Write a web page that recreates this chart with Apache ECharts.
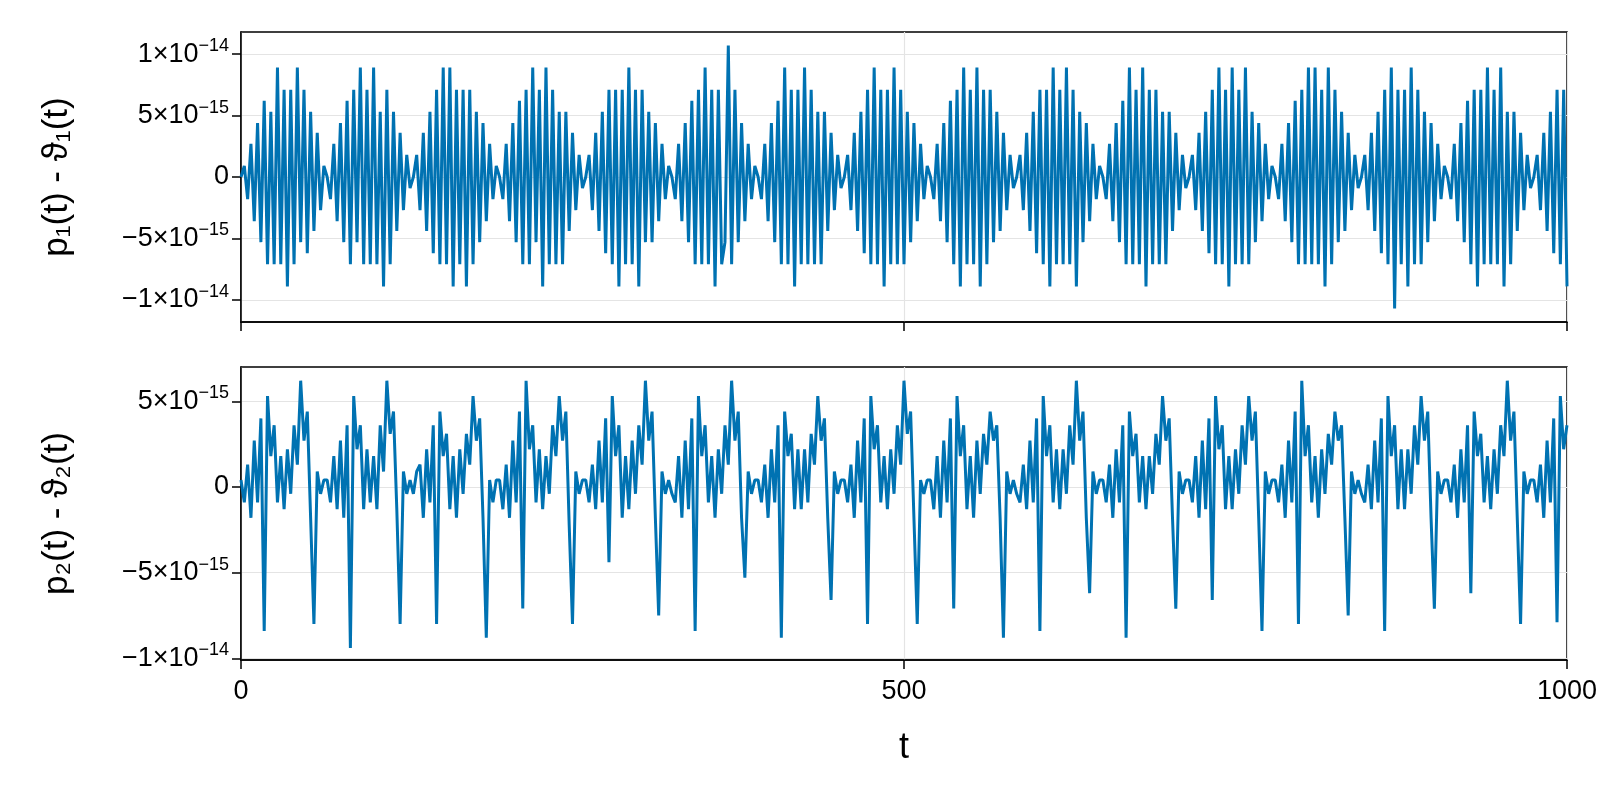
<!DOCTYPE html>
<html>
<head>
<meta charset="utf-8">
<script src="https://cdn.jsdelivr.net/npm/echarts@6/dist/echarts.min.js"></script>
<style>
  html, body { margin: 0; padding: 0; background: #fff; }
  #chart { width: 1600px; height: 800px; }
</style>
</head>
<body>
<div id="chart"></div>
<script>
/**
 * p(t) - theta(t) residuals, two panels
 * values are in units of 1e-15, sampled every 2.5 in t
 */

var color_linea = '#0072b2';
var t_paso = 2.5;

// top panel: p1(t) - theta1(t), one row per 65 t (26 samples)
var dif_p1 = [
    0, 0.9, -1.8, 2.7, -3.6, 4.4, -5.3, 6.2, -7.1, 5.3, -7.1, 8.9, -7.1, 7.1, -8.9, 7.1, -7.1, 8.9, -5.3, 7.1, -6.2, 5.3, -4.4, 3.6, -2.7, 0.9,
    0, -1.8, 2.7, -3.6, 4.4, -5.3, 6.2, -7.1, 7.1, -5.3, 8.9, -7.1, 7.1, -7.1, 8.9, -7.1, 5.3, -8.9, 7.1, -7.1, 5.3, -4.4, 3.6, -2.7, 1.8, -0.9,
    0, 1.8, -2.7, 3.6, -4.4, 5.3, -6.2, 7.1, -7.1, 8.9, -7.1, 8.9, -8.9, 7.1, -7.1, 7.1, -8.9, 7.1, -7.1, 5.3, -5.3, 4.4, -3.6, 2.7, -1.8, 0.9,
    0, -1.8, 2.7, -3.6, 4.4, -5.3, 6.2, -7.1, 7.1, -7.1, 8.9, -5.3, 7.1, -8.9, 8.9, -7.1, 7.1, -7.1, 5.3, -7.1, 5.3, -4.4, 3.6, -2.7, 1.8, -0.9,
    0, 1.8, -2.7, 3.6, -4.4, 5.3, -6.2, 7.1, -7.1, 7.1, -8.9, 7.1, -7.1, 8.9, -7.1, 7.1, -8.9, 7.1, -5.3, 5.3, -5.3, 4.4, -3.6, 2.7, -1.8, 0.9,
    0, -1.8, 2.7, -3.6, 4.4, -5.3, 6.2, -7.1, 7.1, -7.1, 8.9, -7.1, 7.1, -8.9, 7.1, -7.1, -5.3, 10.7, -7.1, 7.1, -5.3, 4.4, -3.6, 2.7, -1.8, 0.9,
    0, -1.8, 2.7, -3.6, 4.4, -5.3, 6.2, -7.1, 8.9, -7.1, 7.1, -8.9, 7.1, -7.1, 8.9, -7.1, 7.1, -7.1, 5.3, -7.1, 5.3, -4.4, 3.6, -2.7, 1.8, -0.9,
    0, 1.8, -2.7, 3.6, -4.4, 5.3, -6.2, 7.1, -7.1, 8.9, -7.1, 7.1, -8.9, 7.1, -7.1, 8.9, -7.1, 7.1, -7.1, 5.3, -5.3, 4.4, -3.6, 2.7, -1.8, 0.9,
    0, -1.8, 2.7, -3.6, 4.4, -5.3, 6.2, -7.1, 7.1, -8.9, 8.9, -7.1, 7.1, -7.1, 8.9, -8.9, 7.1, -7.1, 7.1, -5.3, 5.3, -4.4, 3.6, -2.7, 1.8, -0.9,
    0, 1.8, -2.7, 3.6, -4.4, 5.3, -6.2, 7.1, -7.1, 7.1, -8.9, 8.9, -7.1, 7.1, -7.1, 8.9, -7.1, 7.1, -8.9, 5.3, -5.3, 4.4, -3.6, 2.7, -1.8, 0.9,
    0, -1.8, 2.7, -3.6, 4.4, -5.3, 6.2, -7.1, 8.9, -7.1, 7.1, -7.1, 8.9, -8.9, 7.1, -7.1, 7.1, -7.1, 5.3, -7.1, 5.3, -4.4, 3.6, -2.7, 1.8, -0.9,
    0, 1.8, -2.7, 3.6, -4.4, 5.3, -6.2, 7.1, -7.1, 8.9, -7.1, 7.1, -8.9, 8.9, -7.1, 7.1, -7.1, 8.9, -7.1, 5.3, -5.3, 4.4, -3.6, 2.7, -1.8, 0.9,
    0, -1.8, 2.7, -3.6, 4.4, -5.3, 6.2, -7.1, 7.1, -7.1, 8.9, -7.1, 8.9, -7.1, 7.1, -8.9, 8.9, -7.1, 7.1, -5.3, 5.3, -4.4, 3.6, -2.7, 1.8, -0.9,
    0, 1.8, -2.7, 3.6, -4.4, 5.3, -6.2, 7.1, -7.1, 8.9, -10.7, 7.1, -7.1, 7.1, -8.9, 8.9, -7.1, 7.1, -7.1, 5.3, -5.3, 4.4, -3.6, 2.7, -1.8, 0.9,
    0, -1.8, 2.7, -3.6, 4.4, -5.3, 6.2, -7.1, 7.1, -8.9, 7.1, -7.1, 8.9, -7.1, 7.1, -7.1, 8.9, -8.9, 5.3, -7.1, 5.3, -4.4, 3.6, -2.7, 1.8, -0.9,
    0, 1.8, -2.7, 3.6, -4.4, 5.3, -6.2, 7.1, -7.1, 7.1, -8.9
];

// bottom panel: p2(t) - theta2(t), one row per 65 t (26 samples)
var dif_p2 = [
    0.4, -0.9, 1.3, -1.8, 2.7, -0.9, 4.0, -8.4, 5.3, 1.8, 3.6, -0.9, 1.8, -1.3, 2.2, -0.4, 3.6, 1.3, 6.2, 2.7, 4.4, -1.8, -8.0, 0.9, -0.4, 0.4,
    0.4, -0.9, 1.8, -1.3, 2.7, -1.8, 3.6, -9.4, 5.3, 2.2, 3.6, -1.3, 2.2, -0.9, 1.8, -1.3, 3.6, 0.9, 6.2, 3.1, 4.4, -1.3, -8.0, 0.9, -0.4, 0.4,
    -0.4, 0.9, 1.3, -1.8, 2.2, -0.9, 3.6, -8.0, 4.4, 1.8, 3.1, -1.3, 1.8, -1.8, 2.2, -0.4, 3.1, 1.3, 5.3, 2.7, 4.0, -1.8, -8.8, 0.4, -0.9, 0.4,
    0.4, -1.3, 1.3, -1.8, 2.7, -0.9, 4.4, -7.1, 6.2, 2.2, 3.6, -0.9, 2.2, -1.3, 1.8, -0.4, 3.6, 1.8, 5.3, 2.7, 4.4, -2.2, -8.0, 0.9, -0.4, 0.4,
    0.4, -0.9, 1.3, -1.3, 2.7, -0.9, 4.0, -4.4, 5.3, 1.8, 3.6, -1.8, 1.8, -1.3, 2.7, -0.4, 3.6, 1.3, 6.2, 2.7, 4.4, -1.8, -7.5, 0.9, -0.4, 0.4,
    -0.4, -0.9, 1.8, -1.8, 2.7, -1.3, 4.0, -8.4, 5.3, 1.8, 3.6, -0.9, 1.8, -1.8, 2.2, -0.4, 3.6, 1.3, 6.2, 2.7, 4.4, -1.8, -5.3, 0.9, -0.4, 0.4,
    0.4, -0.9, 1.3, -1.8, 2.2, -0.9, 3.6, -8.8, 4.4, 1.8, 3.1, -1.3, 2.2, -1.3, 2.2, -0.9, 3.1, 1.3, 5.3, 2.7, 4.0, -1.8, -6.6, 0.9, -0.4, 0.4,
    0.4, -0.9, 1.3, -1.8, 2.7, -0.9, 4.0, -8.0, 5.3, 2.2, 3.6, -0.9, 1.8, -1.3, 2.2, -0.4, 3.6, 1.3, 6.2, 3.1, 4.4, -1.8, -8.0, 0.4, -0.4, 0.4,
    0.4, -1.3, 1.8, -1.8, 2.7, -0.9, 4.0, -7.1, 5.3, 1.8, 3.6, -1.3, 1.8, -1.8, 2.7, -0.4, 3.1, 1.3, 4.4, 2.7, 3.6, -1.8, -8.8, 0.9, -0.4, 0.4,
    -0.4, -0.9, 1.3, -1.3, 2.7, -0.9, 4.0, -8.4, 5.3, 1.8, 3.6, -0.9, 2.2, -1.3, 2.2, -0.4, 3.6, 1.3, 6.2, 2.7, 4.4, -1.8, -6.2, 0.9, -0.4, 0.4,
    0.4, -0.9, 1.3, -1.8, 2.2, -0.9, 3.6, -8.8, 4.4, 1.8, 3.1, -0.9, 1.8, -1.3, 1.8, -0.4, 3.1, 1.3, 5.3, 2.7, 4.0, -1.8, -7.1, 0.9, -0.4, 0.4,
    0.4, -0.9, 1.8, -1.8, 2.7, -1.3, 4.0, -6.6, 5.3, 2.2, 3.6, -1.3, 1.8, -1.3, 2.2, -0.4, 3.6, 1.3, 5.3, 2.7, 4.4, -1.8, -8.4, 0.9, -0.4, 0.4,
    0.4, -0.9, 1.3, -1.8, 2.7, -0.9, 4.4, -8.0, 6.2, 1.8, 3.6, -0.9, 1.8, -1.8, 2.2, -0.4, 3.1, 1.3, 4.4, 2.7, 3.6, -1.8, -7.5, 0.9, -0.4, 0.4,
    -0.4, -0.9, 1.3, -1.3, 2.7, -0.9, 4.0, -8.4, 5.3, 1.8, 3.6, -1.3, 2.2, -1.3, 2.2, -0.4, 3.6, 1.3, 5.3, 2.7, 4.4, -1.8, -7.1, 0.9, -0.4, 0.4,
    0.4, -0.9, 1.3, -1.8, 2.2, -0.9, 3.6, -6.2, 4.4, 1.8, 3.1, -0.9, 1.8, -1.3, 2.2, -0.4, 3.6, 1.8, 6.2, 2.7, 4.4, -1.8, -8.0, 0.9, -0.4, 0.4,
    0.4, -0.9, 1.3, -1.8, 2.7, -0.9, 4.0, -7.9, 5.3, 2.2, 3.6
];

var ticks_x = [0, 500, 1000];
var ticks_y1 = [-10, -5, 0, 5, 10];
var ticks_y2 = [-10, -5, 0, 5];

function pares(valores) {
    return valores.map(function(v, i) { return [i * t_paso, v]; });
}

// 5 -> 5×10^-15 , 10 -> 1×10^-14
function etiqueta_y(v) {
    if (v === 0) return '{b|0}';
    var signo = v < 0 ? '\u2212' : '';
    var a = Math.abs(v);
    if (a === 10) return '{b|' + signo + '1\u00d710}{s|\u221214}';
    return '{b|' + signo + a + '\u00d710}{s|\u221215}';
}

var rico = {
    b: { fontSize: 27, color: '#000', fontFamily: 'Liberation Sans' },
    s: { fontSize: 18, color: '#000', fontFamily: 'Liberation Sans', padding: [0, 0, 16, 0] }
};

function eje_y(idx, min, max, ticks, nombre) {
    return {
        type: 'value', gridIndex: idx, min: min, max: max,
        name: nombre, nameLocation: 'middle', nameGap: 166, nameRotate: 90,
        nameTextStyle: { fontSize: 35, color: '#000', fontFamily: 'Liberation Sans' },
        axisLine: { show: true, lineStyle: { color: '#000', width: 1.5 } },
        axisTick: { show: true, inside: false, length: 9, customValues: ticks, lineStyle: { color: '#000', width: 1.5 } },
        axisLabel: { customValues: ticks, formatter: etiqueta_y, rich: rico, margin: 12, color: '#000' },
        splitLine: { show: true, lineStyle: { color: '#e4e4e4', width: 1.2 } }
    };
}

function eje_x(idx, etiquetas) {
    return {
        type: 'value', gridIndex: idx, min: 0, max: 1000,
        name: etiquetas ? 't' : '', nameLocation: 'middle', nameGap: 70,
        nameTextStyle: { fontSize: 36, color: '#000', fontFamily: 'Liberation Sans' },
        axisLine: { show: true, onZero: false, lineStyle: { color: '#000', width: 1.5 } },
        axisTick: { show: true, inside: false, length: 9, customValues: ticks_x, lineStyle: { color: '#000', width: 1.5 } },
        axisLabel: { show: etiquetas, customValues: ticks_x, fontSize: 27, color: '#000', margin: 18,
                     fontFamily: 'Liberation Sans', formatter: function(v) { return String(v); } },
        splitLine: { show: true, lineStyle: { color: '#e4e4e4', width: 1.2 } }
    };
}

var grafico = echarts.init(document.getElementById('chart'), null, { renderer: 'canvas' });

var option = {
    animation: false,
    backgroundColor: '#fff',
    grid: [
        { left: 241, right: 33, top: 32, height: 290, show: true, borderColor: '#000', borderWidth: 1.5 },
        { left: 241, right: 33, top: 367, height: 293, show: true, borderColor: '#000', borderWidth: 1.5 }
    ],
    xAxis: [ eje_x(0, false), eje_x(1, true) ],
    yAxis: [
        eje_y(0, -11.8, 11.8, ticks_y1, 'p\u2081(t) - \u03d1\u2081(t)'),
        eje_y(1, -10.1, 7.0, ticks_y2, 'p\u2082(t) - \u03d1\u2082(t)')
    ],
    series: [
        {
            type: 'line', xAxisIndex: 0, yAxisIndex: 0, data: pares(dif_p1),
            showSymbol: false, lineStyle: { color: color_linea, width: 3 }
        },
        {
            type: 'line', xAxisIndex: 1, yAxisIndex: 1, data: pares(dif_p2),
            showSymbol: false, lineStyle: { color: color_linea, width: 3 }
        }
    ]
};

grafico.setOption(option);
</script>
</body>
</html>
